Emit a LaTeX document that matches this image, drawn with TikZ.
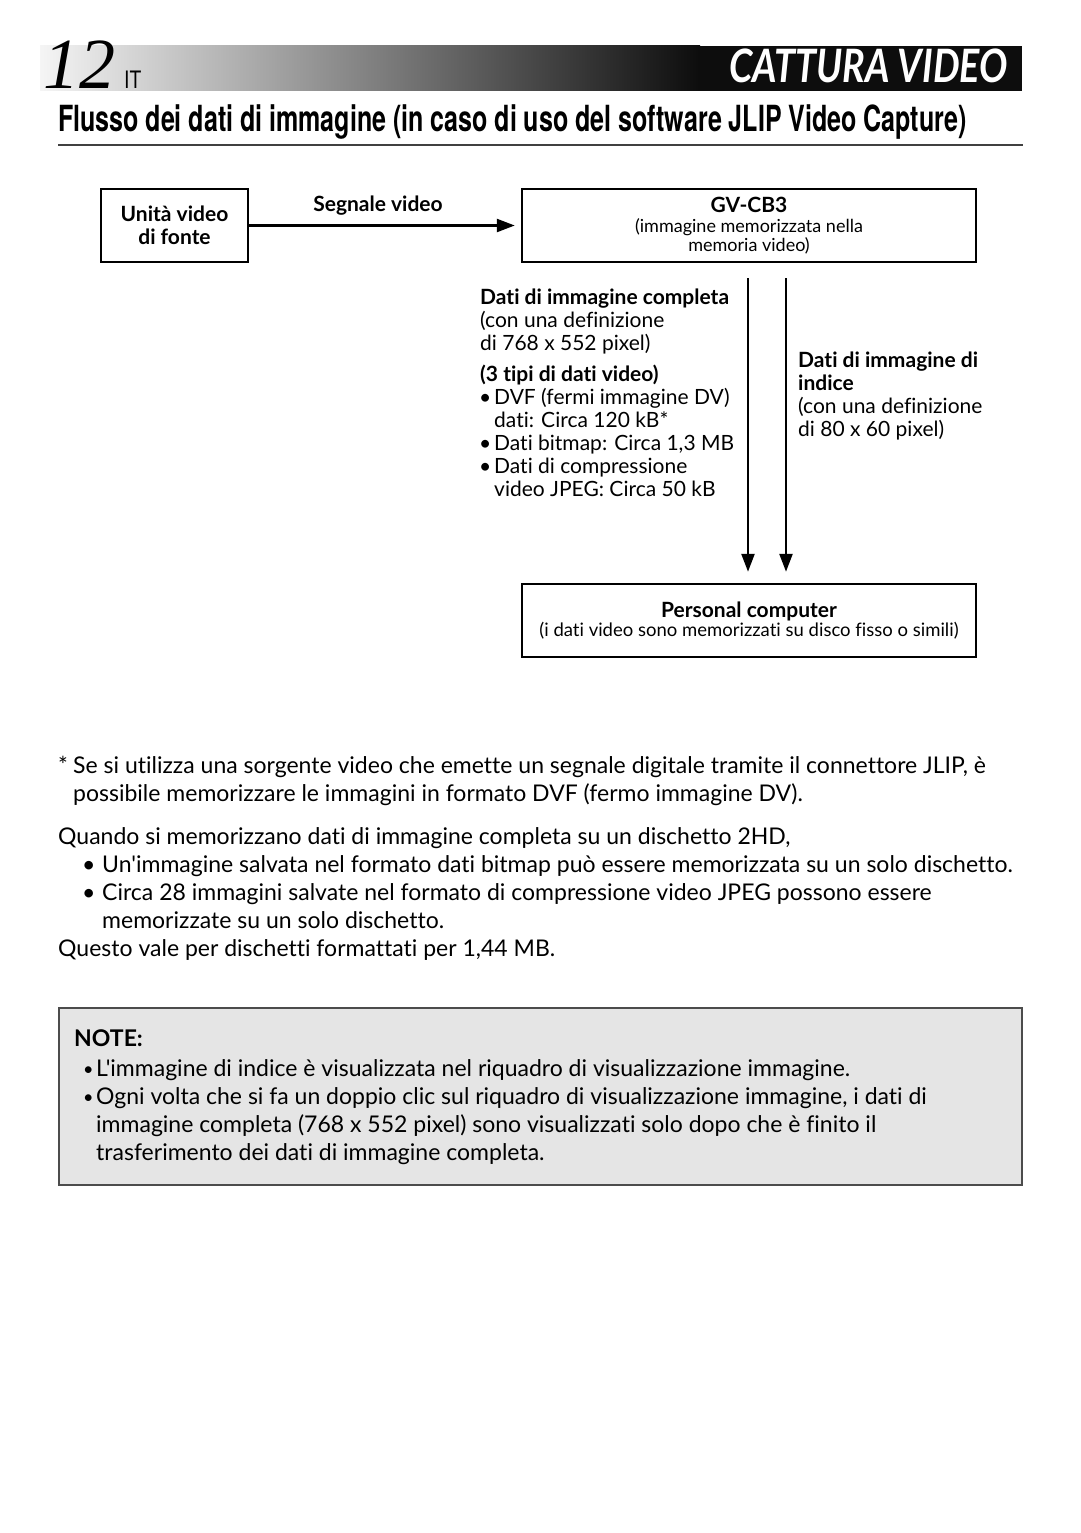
\documentclass[tikz,border=0pt]{standalone}
\usepackage{fontspec}
\setmainfont{Lato}[Ligatures={NoCommon,TeXOff}]
\newfontfamily\titlefont[FakeStretch=0.695]{TeX Gyre Heros}
\newfontfamily\itfont[FakeStretch=0.8]{TeX Gyre Heros}
\newfontfamily\hdfont[FakeStretch=0.82,Ligatures={NoCommon}]{Lato}
\newfontfamily\numfont{Liberation Serif}
\usetikzlibrary{arrows.meta}
\newcommand{\smallf}{\fontsize{18}{18}\selectfont}
\newcommand{\pcf}{\fontsize{18.5}{20}\selectfont}
\newcommand{\headf}{\bfseries\fontsize{21}{21}\selectfont}
\begin{document}
\begin{tikzpicture}[x=1pt,y=-1pt,
  box/.style={draw, line width=2.5pt, align=center, inner sep=0pt},
  arr/.style={line width=2.5pt, -{Triangle[length=18pt,width=13pt]}},
  txt/.style={anchor=base west, inner sep=0pt, font=\fontsize{21}{23}\selectfont},
  txtb/.style={txt, font=\bfseries\fontsize{21}{23}\selectfont},
  body/.style={anchor=base west, inner sep=0pt, font=\fontsize{23}{28}\selectfont},
  bul/.style={anchor=base west, inner sep=0pt, font=\fontsize{18}{28}\selectfont}
]
\useasboundingbox (0,0) rectangle (1080,1533);
\fill[white] (0,0) rectangle (1080,1533);

% header band
\shade[left color=gray!8, right color=black!95] (40,46) rectangle (700,91);
\fill[black!95] (700,46) rectangle (1022,91);
\node[anchor=base west, inner sep=0pt, font=\numfont\itshape\fontsize{72}{72}\selectfont] (num) at (43,89) {12};
\node[anchor=base west, inner sep=0pt, font=\itfont\fontsize{24}{24}\selectfont] (it) at (124,89) {IT};
\node[anchor=base east, inner sep=0pt, text=white, font=\hdfont\bfseries\itshape\fontsize{46}{46}\selectfont] (hd) at (1008,83) {CATTURA VIDEO};

% title
\node[anchor=base west, inner sep=0pt, font=\titlefont\bfseries\fontsize{36}{36}\selectfont] (title) at (58,132) {Flusso dei dati di immagine (in caso di uso del software JLIP Video Capture)};
\draw[black!75, line width=2pt] (58,145) -- (1023,145);

% diagram
\node[box, minimum width=147pt, minimum height=73pt, font=\bfseries\fontsize{21}{23}\selectfont] (src) at (174.5,225.5) {Unità video\\di fonte};
\node[box, minimum width=454pt, minimum height=73pt] (gv) at (749,225.5)
  {\headf GV-CB3\\[5pt]\smallf (immagine memorizzata nella\\\smallf memoria video)};
\node[box, minimum width=454pt, minimum height=73pt] (pc) at (749,620.5)
  {\headf Personal computer\\\pcf (i dati video sono memorizzati su disco fisso o simili)};

\draw[arr, shorten >=6pt] (src.east) -- node[above=9pt, xshift=-7pt, inner sep=0pt, font=\bfseries\fontsize{21}{23}\selectfont] (sig) {Segnale video} (gv.west);

\coordinate (a1) at (748,0);
\coordinate (a2) at (786,0);
\draw[arr, shorten <=15pt, shorten >=11pt] (gv.south -| a1) -- (pc.north -| a1);
\draw[arr, shorten <=15pt, shorten >=11pt] (gv.south -| a2) -- (pc.north -| a2);

\node[txtb] (l1) at (480,304) {Dati di immagine completa};
\node[txt] (l2) at (480,327) {(con una definizione};
\node[txt] (l3) at (480,350) {di 768 x 552 pixel)};
\node[txtb] (l4) at (480,381) {(3 tipi di dati video)};
\node[txt] (b1) at (479,404) {•};
\node[txt] (l5) at (494,404) {DVF (fermi immagine DV)};
\node[txt] (l6) at (494,427) {dati: Circa 120 kB*};
\node[txt] (b2) at (479,450) {•};
\node[txt] (l7) at (494,450) {Dati bitmap: Circa 1,3 MB};
\node[txt] (b3) at (479,473) {•};
\node[txt] (l8) at (494,473) {Dati di compressione};
\node[txt] (l9) at (494,496) {video JPEG: Circa 50 kB};

\node[txtb] (r1) at (798,367) {Dati di immagine di};
\node[txtb] (r2) at (798,390) {indice};
\node[txt] (r3) at (798,413) {(con una definizione};
\node[txt] (r4) at (798,436) {di 80 x 60 pixel)};

% body text
\node[body] (s0) at (58,773) {*};
\node[body] (s1) at (73,773) {Se si utilizza una sorgente video che emette un segnale digitale tramite il connettore JLIP, è};
\node[body] (s2) at (73,801) {possibile memorizzare le immagini in formato DVF (fermo immagine DV).};
\node[body] (q1) at (58,844) {Quando si memorizzano dati di immagine completa su un dischetto 2HD,};
\node[body] (qb1) at (82,872) {•};
\node[body] (q2) at (102,872) {Un'immagine salvata nel formato dati bitmap può essere memorizzata su un solo dischetto.};
\node[body] (qb2) at (82,900) {•};
\node[body] (q3) at (102,900) {Circa 28 immagini salvate nel formato di compressione video JPEG possono essere};
\node[body] (q4) at (102,928) {memorizzate su un solo dischetto.};
\node[body] (q5) at (58,956) {Questo vale per dischetti formattati per 1,44 MB.};

% note
\node[draw=black!70, fill=black!10, line width=1.5pt, minimum width=963pt, minimum height=177pt, inner sep=0pt] (note) at (540.5,1096.5) {};
\node[body, font=\bfseries\fontsize{23}{28}\selectfont] (nt) at (74,1046) {NOTE:};
\node[bul] (nb1) at (83,1075) {•};
\node[body] (n1) at (96,1076) {L'immagine di indice è visualizzata nel riquadro di visualizzazione immagine.};
\node[bul] (nb2) at (83,1103) {•};
\node[body] (n2) at (96,1104) {Ogni volta che si fa un doppio clic sul riquadro di visualizzazione immagine, i dati di};
\node[body] (n3) at (96,1132) {immagine completa (768 x 552 pixel) sono visualizzati solo dopo che è finito il};
\node[body] (n4) at (96,1160) {trasferimento dei dati di immagine completa.};
\end{tikzpicture}
\end{document}
